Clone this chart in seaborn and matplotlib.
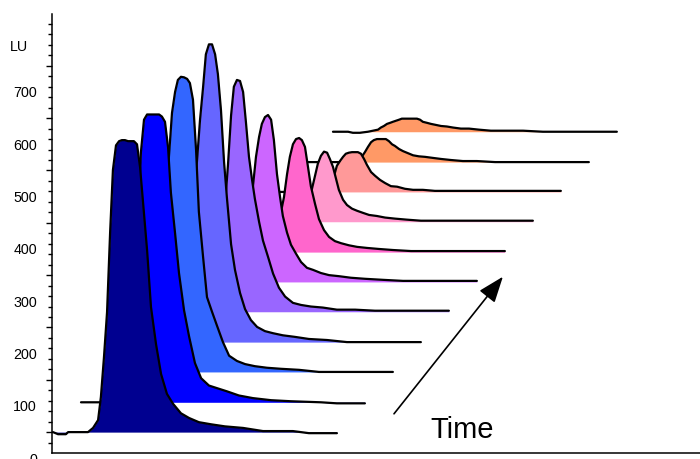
import matplotlib
matplotlib.use("Agg")
import matplotlib.pyplot as plt
from matplotlib import transforms
from matplotlib.ticker import FixedLocator, NullFormatter
import numpy as np
import pandas as pd
import seaborn as sns

# Retention time grid (min), shared by every injection
run_time = [0.00, 0.18, 0.46, 0.54, 0.71, 0.96, 1.25, 1.43, 1.61, 1.71,
            1.82, 1.93, 2.04, 2.14, 2.25, 2.36, 2.46, 2.57, 2.68, 2.79,
            2.89, 3.00, 3.11, 3.21, 3.36, 3.50, 3.68, 3.86, 4.07, 4.29,
            4.57, 4.86, 5.21, 5.64, 6.14, 6.79, 7.50, 8.57, 9.14, 10.14]

# Fluorescence signal above each run's baseline (LU)
run_01 = [0, -4, -4, 0, 0, 0, 0, 8, 23, 67, 143, 229, 382, 501, 548,
          556, 558, 558, 556, 556, 556, 550, 506, 443, 348, 239, 168, 111, 73, 54,
          36, 27, 19, 15, 11, 8, 2, 2, -2, -2]
run_02 = [0, 0, 0, 0, 0, 0, 0, 8, 23, 57, 124, 210, 344, 478, 540,
          550, 550, 550, 550, 550, 546, 536, 487, 401, 323, 247, 176, 126, 75, 46,
          32, 27, 21, 13, 8, 4, 2, 0, -2, -2]
run_03 = [0, 0, 0, 0, 0, 0, 0, 6, 19, 48, 105, 191, 306, 411, 495,
          535, 558, 564, 563, 560, 552, 520, 424, 306, 220, 143, 115, 88, 57, 31,
          21, 15, 11, 8, 6, 4, 0, 0, 0, 0]
run_04 = [0, 0, 0, 0, 0, 0, 0, 4, 15, 38, 86, 162, 258, 344, 424,
          487, 550, 569, 569, 550, 512, 443, 344, 277, 187, 138, 94, 63, 42, 29,
          21, 17, 13, 10, 6, 4, 0, 0, 0, 0]
run_05 = [0, 0, 0, 0, 0, 0, 0, 2, 10, 23, 54, 96, 143, 201, 281,
          375, 430, 443, 441, 420, 363, 296, 252, 216, 172, 136, 105, 73, 46, 29,
          17, 13, 10, 8, 4, 4, 2, 2, 2, 2]
run_06 = [0, 0, 0, 0, 0, 0, 0, 2, 6, 15, 34, 67, 115, 182, 239,
          277, 302, 315, 319, 310, 271, 206, 162, 126, 94, 71, 54, 38, 27, 23,
          17, 13, 11, 8, 6, 4, 2, 2, 2, 2]
run_07 = [0, 0, 0, 0, 0, 0, 0, 2, 4, 8, 15, 29, 48, 76, 105,
          149, 182, 206, 216, 218, 214, 201, 162, 126, 92, 63, 42, 29, 21, 17,
          13, 10, 8, 6, 4, 2, 2, 2, 2, 2]
run_08 = [0, 0, 0, 0, 0, 0, 0, 0, 2, 4, 8, 13, 23, 38, 63,
          88, 111, 126, 134, 132, 120, 105, 82, 61, 42, 32, 25, 21, 17, 13,
          11, 8, 6, 4, 2, 2, 2, 2, 2, 2]
run_09 = [0, 0, 0, 0, 0, 0, 0, 0, 2, 4, 8, 15, 31, 50, 59,
          67, 73, 75, 76, 76, 76, 73, 63, 52, 38, 31, 23, 17, 11, 10,
          6, 4, 4, 2, 2, 2, 2, 2, 2, 2]
run_10 = [0, 0, 0, 0, 0, 0, 0, 0, 0, 2, 4, 8, 11, 19, 29,
          38, 42, 44, 44, 44, 44, 40, 34, 31, 25, 21, 17, 13, 11, 10,
          8, 6, 4, 2, 2, 0, 0, 0, 0, 0]
run_11 = [0, 0, 0, 0, -2, -2, 0, 2, 4, 8, 11, 15, 17, 19, 21,
          23, 25, 25, 25, 25, 25, 25, 23, 19, 17, 15, 13, 11, 10, 8,
          6, 6, 4, 2, 2, 2, 0, 0, 0, 0]

runs = [run_01, run_02, run_03, run_04, run_05, run_06,
        run_07, run_08, run_09, run_10, run_11]

# Waterfall placement of each injection: time shift (min) and baseline (LU)
time_shift = [0, 1, 2, 3, 4, 5, 6, 7, 8, 9, 10]
baselines = [50, 107, 165, 222, 280, 337, 394, 452, 509, 566, 624]

run_colors = ["#000090", "#0000FF", "#3366FF", "#6666FF", "#9966FF", "#CC66FF",
              "#FF66CC", "#FF99CC", "#FF9999", "#FF9966", "#FF9966"]

y_labels = [0, 100, 200, 300, 400, 500, 600, 700]

frames = []
for k, sig in enumerate(runs):
    t = np.asarray(run_time) + time_shift[k]
    s = np.asarray(sig, dtype=float)
    frames.append(pd.DataFrame({"run": k, "time": t,
                                "base": baselines[k],
                                "signal": baselines[k] + s}))
df = pd.concat(frames, ignore_index=True)

sns.set_theme(style="white")
plt.rcParams["font.family"] = ["Liberation Sans", "DejaVu Sans"]

fig = plt.figure(figsize=(7.0, 4.59), dpi=100)
ax = fig.add_axes([52 / 700, 6 / 459, 648 / 700, 439 / 459])

# back runs first so each nearer run covers the one behind it
n = len(runs)
for k in reversed(range(n)):
    d = df[df["run"] == k]
    z = 2 * (n - k) + 2
    ax.fill_between(d["time"], d["base"], d["signal"], color=run_colors[k],
                    linewidth=0, zorder=z)
    sns.lineplot(data=d, x="time", y="signal", color="black", linewidth=1.6,
                 sort=False, estimator=None, ax=ax, zorder=z + 1,
                 solid_joinstyle="round")

ax.set_xlim(-0.036, 23.11)
ax.set_ylim(10.1, 849)
ax.set_xlabel("")
ax.set_ylabel("")
ax.set_xticks([])

sns.despine(ax=ax, top=True, right=True)
for side in ("left", "bottom"):
    ax.spines[side].set_color("black")
    ax.spines[side].set_linewidth(1.1)

# long ticks half way between the labels, short ticks every 20 LU
ax.yaxis.set_major_locator(FixedLocator(np.arange(50, 800, 100)))
ax.yaxis.set_major_formatter(NullFormatter())
ax.yaxis.set_minor_locator(FixedLocator(np.arange(10, 850, 20)))
ax.tick_params(axis="y", which="major", left=True, length=4.5, width=1.0,
               direction="out", color="black")
ax.tick_params(axis="y", which="minor", left=True, length=3, width=1.0,
               direction="out", color="black")

lab_tr = transforms.blended_transform_factory(ax.transAxes, ax.transData)
for v in y_labels:
    ax.text(-15 / 648, v, str(v), transform=lab_tr, ha="right",
            va="center_baseline", fontsize=10.3, color="black", clip_on=False)
ax.text(-42 / 648, 788, "LU", transform=lab_tr, ha="left",
        va="center_baseline", fontsize=10.3, color="black", clip_on=False)

ax.annotate("", xy=(16.07, 347), xytext=(12.18, 85),
            arrowprops=dict(arrowstyle="-|>,head_length=0.8,head_width=0.3",
                            mutation_scale=20, color="black", lw=1.2,
                            shrinkA=0, shrinkB=0))
ax.text(14.6, 39, "Time", fontsize=21, ha="center", va="baseline",
        color="black")

fig.savefig("out.png", dpi=100)
